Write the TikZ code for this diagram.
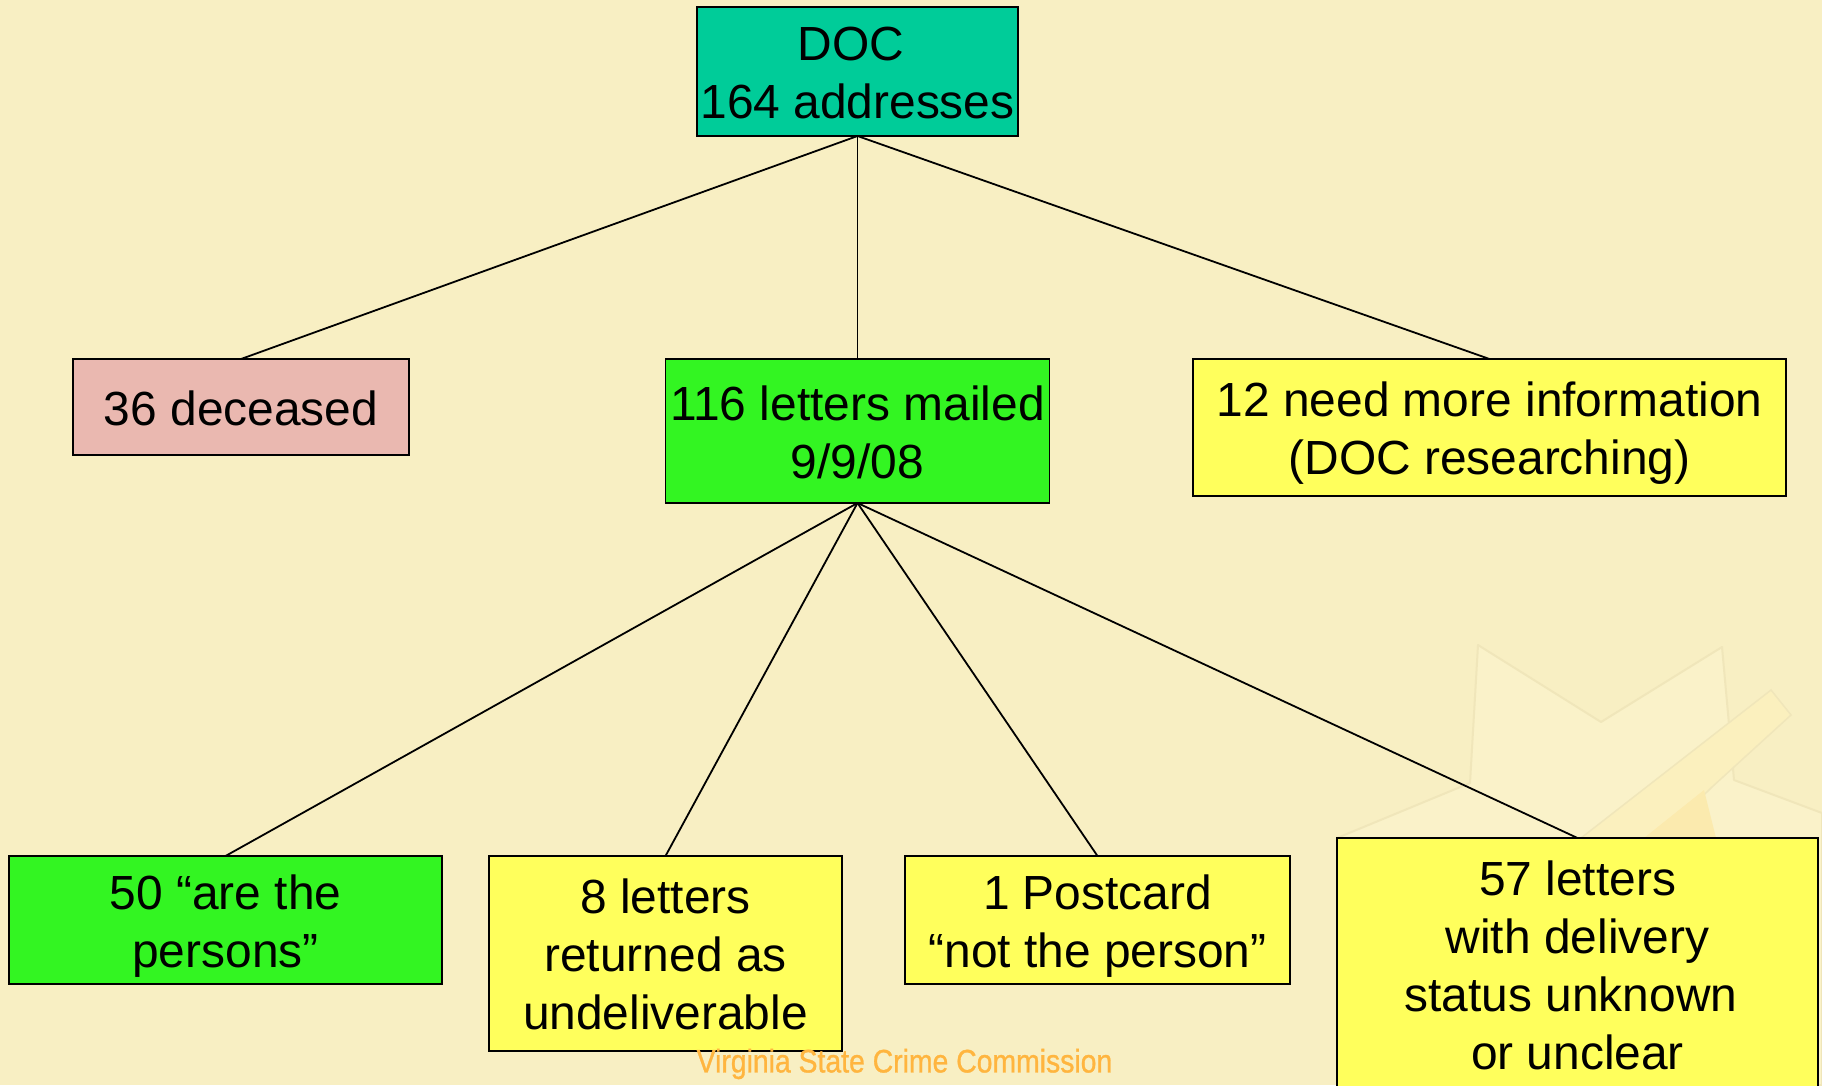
\documentclass[tikz,border=0pt]{standalone}
\usepackage{fontspec}
\setmainfont{Liberation Sans}
\newfontfamily\footfont[FakeBold=1]{Liberation Sans}
\newcommand{\bxs}{\rule{0pt}{47pt}}
\newcommand{\bxe}{\rule[-11pt]{0pt}{1pt}}
\definecolor{pagebg}{HTML}{F8EFC3}
\definecolor{starfill}{HTML}{FAF2C9}
\definecolor{staredge}{HTML}{F0E6BA}
\definecolor{rodfill}{HTML}{FBF0BE}
\definecolor{rodcore}{HTML}{FBEAAE}
\definecolor{docgreen}{HTML}{00CC99}
\definecolor{brightgreen}{HTML}{33F522}
\definecolor{rosebox}{HTML}{EAB8B0}
\definecolor{lemon}{HTML}{FFFF5C}
\definecolor{footer}{HTML}{FFB53F}
\tikzset{
  x=1pt,y=-1pt,
  boxnode/.style={draw=black,line width=1.8pt,inner sep=0pt,outer sep=0pt,align=center,
    font=\fontsize{47.9}{58}\selectfont,text=black},
  linkline/.style={draw=black,line width=1.8pt},
}
\begin{document}
\begin{tikzpicture}
\clip (0,0) rectangle (1822,1085);
\fill[pagebg] (0,0) rectangle (1822,1085);
% watermark star
\fill[starfill,draw=staredge,line width=2pt,line join=round] (1337,838) -- (1470,783) -- (1478,645) -- (1601,722) -- (1722,647) -- (1734,780) -- (1822,813) -- (1822,1085) -- (1337,1085) -- cycle;
\fill[rodfill,draw=staredge,line width=1.5pt] (1771,690) -- (1791,715) -- (1712,787) -- (1660,838) -- (1581,838) -- cycle;
\fill[rodcore] (1704,790) -- (1716,838) -- (1644,838) -- cycle;
% boxes
\node[boxnode,fill=docgreen,minimum width=321pt,minimum height=129pt] (doc) at (857.5,71.5) {\bxs DOC\hspace*{13pt}\\164 addresses\bxe};
\node[boxnode,fill=rosebox,minimum width=336pt,minimum height=96pt] (dead) at (241,407) {\bxs 36 deceased\bxe};
\node[boxnode,fill=brightgreen,minimum width=384pt,minimum height=144pt] (mailed) at (857.5,431) {\bxs 116 letters mailed\\9/9/08\bxe};
\node[boxnode,fill=lemon,minimum width=593pt,minimum height=137pt] (info) at (1489.5,427.5) {\bxs 12 need more information\\(DOC researching)\bxe};
\node[boxnode,fill=brightgreen,minimum width=433pt,minimum height=128pt] (are) at (225.5,920) {\bxs 50 “are the\\persons”\bxe};
\node[boxnode,fill=lemon,minimum width=353pt,minimum height=195pt] (returned) at (665.5,953.5) {\bxs 8 letters\\returned as\\undeliverable\bxe};
\node[boxnode,fill=lemon,minimum width=385pt,minimum height=128pt] (post) at (1097.5,920) {\bxs 1 Postcard\\“not the person”\bxe};
\node[boxnode,fill=lemon,minimum width=481pt,minimum height=252pt] (unknown) at (1577.5,964) {\bxs 57 letters\\with delivery\\\hbox{status unknown\kern13pt}\\or unclear\bxe};
% connectors
\draw[linkline] (doc.south) -- (dead.north);
\draw[linkline] (doc.south) -- (mailed.north);
\draw[linkline] (doc.south) -- (info.north);
\draw[linkline] (mailed.south) -- (are.north);
\draw[linkline] (mailed.south) -- (returned.north);
\draw[linkline] (mailed.south) -- (post.north);
\draw[linkline] (mailed.south) -- (unknown.north);
% footer
\node[inner sep=0pt,text=footer,font=\footfont\fontsize{31}{33}\selectfont] (foot) at (904.5,1064) {\scalebox{0.915}[1.05]{Virginia State Crime Commission}};
\end{tikzpicture}
\end{document}
